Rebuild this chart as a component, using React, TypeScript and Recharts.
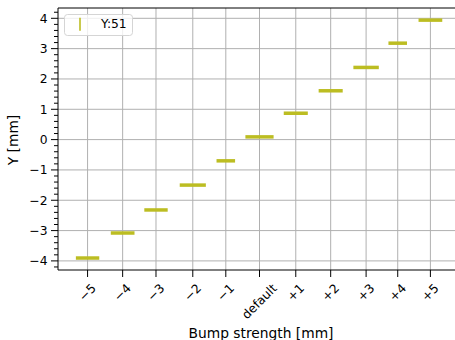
import React from 'react';
import { ScatterChart, Scatter, XAxis, YAxis, ErrorBar, ReferenceLine, Legend } from 'recharts';

const categories = ['\u22125', '\u22124', '\u22123', '\u22122', '\u22121', 'default', '+1', '+2', '+3', '+4', '+5'];
const bumpX = [-5.0, -3.98, -3.01, -1.94, -0.98, 0, 1.055, 2.07, 3.1, 4.02, 4.97];
const yMeans = [-3.905, -3.08, -2.32, -1.5, -0.7, 0.09, 0.87, 1.61, 2.38, 3.18, 3.94];
const xErrors = [0.34, 0.345, 0.34, 0.38, 0.27, 0.41, 0.35, 0.35, 0.37, 0.27, 0.345];
const yMajorTicks = [-4, -3, -2, -1, 0, 1, 2, 3, 4];
const yMinorTicks: number[] = [];
for (let v = -42; v <= 42; v += 2) {
  if (v % 10 !== 0) yMinorTicks.push(v / 10);
}
const yAllTicks = [...yMajorTicks, ...yMinorTicks].sort((a, b) => a - b);

const seriesName = 'Y:51';
const COLOR = '#bcbd22';
const FONT = "'DejaVu Sans', sans-serif";

const data = bumpX.map((x, i) => ({ x, y: yMeans[i], xerr: xErrors[i] }));

let ctx: CanvasRenderingContext2D | null = null;
const measure = (s: string, size: number) => {
  if (!ctx) ctx = document.createElement('canvas').getContext('2d');
  if (!ctx) return s.length * size * 0.6;
  ctx.font = `${size}px 'DejaVu Sans'`;
  return ctx.measureText(s).width;
};

const fmt = (v: number) => (v < 0 ? '\u2212' + Math.abs(v) : String(v));

const YTick = (props: any) => {
  const { x, y, payload } = props;
  const v = payload.value as number;
  const major = Math.abs(v - Math.round(v)) < 1e-6;
  return (
    <g>
      <line x1={x - (major ? 7 : 4)} x2={x} y1={y} y2={y} stroke="#000" strokeWidth={1} />
      {major && (
        <text x={x - 10.5} y={y} dy={4.5} textAnchor="end" fontSize={12.3} fill="#000" fontFamily={FONT}>
          {fmt(Math.round(v))}
        </text>
      )}
    </g>
  );
};

const XTick = (props: any) => {
  const { x, y, payload } = props;
  const idx = bumpX.indexOf(payload.value);
  const label = categories[idx] ?? '';
  const w = measure(label, 12.3);
  const cy = y + 7 + 5 + (w + 12) * 0.3536;
  return (
    <g>
      <line x1={x} x2={x} y1={y} y2={y + 7} stroke="#000" strokeWidth={1} />
      <text
        transform={`translate(${x}, ${cy}) rotate(-45)`}
        textAnchor="middle"
        dominantBaseline="central"
        fontSize={12.3}
        fill="#000"
        fontFamily={FONT}
      >
        {label}
      </text>
    </g>
  );
};

const LegendBox = () => (
  <svg width={70} height={23} style={{ display: 'block' }}>
    <rect x={0.5} y={0.5} width={68} height={21} rx={3} fill="#fff" fillOpacity={0.8} stroke="#d5d5d5" />
    <line x1={16} x2={16} y1={3.7} y2={16.7} stroke={COLOR} strokeWidth={1.6} />
    <text x={37} y={14.3} fontSize={12.3} fill="#000" fontFamily={FONT}>
      {seriesName}
    </text>
  </svg>
);

export default function App() {
  return (
    <div
      style={{
        position: 'absolute',
        left: 0,
        top: 0,
        width: 455,
        height: 340,
        overflow: 'hidden',
        background: '#fff',
        fontFamily: FONT,
      }}
    >
      <ScatterChart width={462} height={340} margin={{ top: 8, right: 1, bottom: 0, left: 0 }}>
        <XAxis
          type="number"
          dataKey="x"
          domain={[-5.86, 5.86]}
          allowDataOverflow
          ticks={bumpX}
          interval={0}
          tickSize={0}
          tickMargin={0}
          tickLine={false}
          axisLine={{ stroke: '#000', strokeWidth: 1 }}
          height={70}
          tick={<XTick />}
          label={(p: any) => (
            <text
              x={p.viewBox.x + p.viewBox.width / 2 + 1.5}
              y={338}
              textAnchor="middle"
              fontSize={13.8}
              fill="#000"
              fontFamily={FONT}
            >
              Bump strength [mm]
            </text>
          )}
        />
        <YAxis
          type="number"
          dataKey="y"
          domain={[-4.3, 4.34]}
          allowDataOverflow
          ticks={yAllTicks}
          interval={0}
          tickSize={0}
          tickMargin={0}
          tickLine={false}
          axisLine={{ stroke: '#000', strokeWidth: 1 }}
          width={58}
          tick={<YTick />}
          label={(p: any) => (
            <text
              x={18}
              y={p.viewBox.y + p.viewBox.height / 2 + 1}
              transform={`rotate(-90, 18, ${p.viewBox.y + p.viewBox.height / 2 + 1})`}
              textAnchor="middle"
              fontSize={13.8}
              fill="#000"
              fontFamily={FONT}
            >
              Y [mm]
            </text>
          )}
        />
        {yMajorTicks.map((v) => (
          <ReferenceLine key={`gy${v}`} y={v} stroke="#b0b0b0" strokeWidth={1} />
        ))}
        {bumpX.map((v) => (
          <ReferenceLine key={`gx${v}`} x={v} stroke="#b0b0b0" strokeWidth={1} />
        ))}
        <ReferenceLine y={4.34} stroke="#000" strokeWidth={1} />
        <Legend
          layout="horizontal"
          verticalAlign="middle"
          align="center"
          wrapperStyle={{ position: 'absolute', top: 14, left: 64, width: 'auto', height: 'auto' }}
          content={() => <LegendBox />}
        />
        <Scatter name={seriesName} data={data} fill={COLOR} shape={() => <g />} isAnimationActive={false}>
          <ErrorBar dataKey="xerr" direction="x" width={0} stroke={COLOR} strokeWidth={3.5} isAnimationActive={false} />
        </Scatter>
      </ScatterChart>
    </div>
  );
}
